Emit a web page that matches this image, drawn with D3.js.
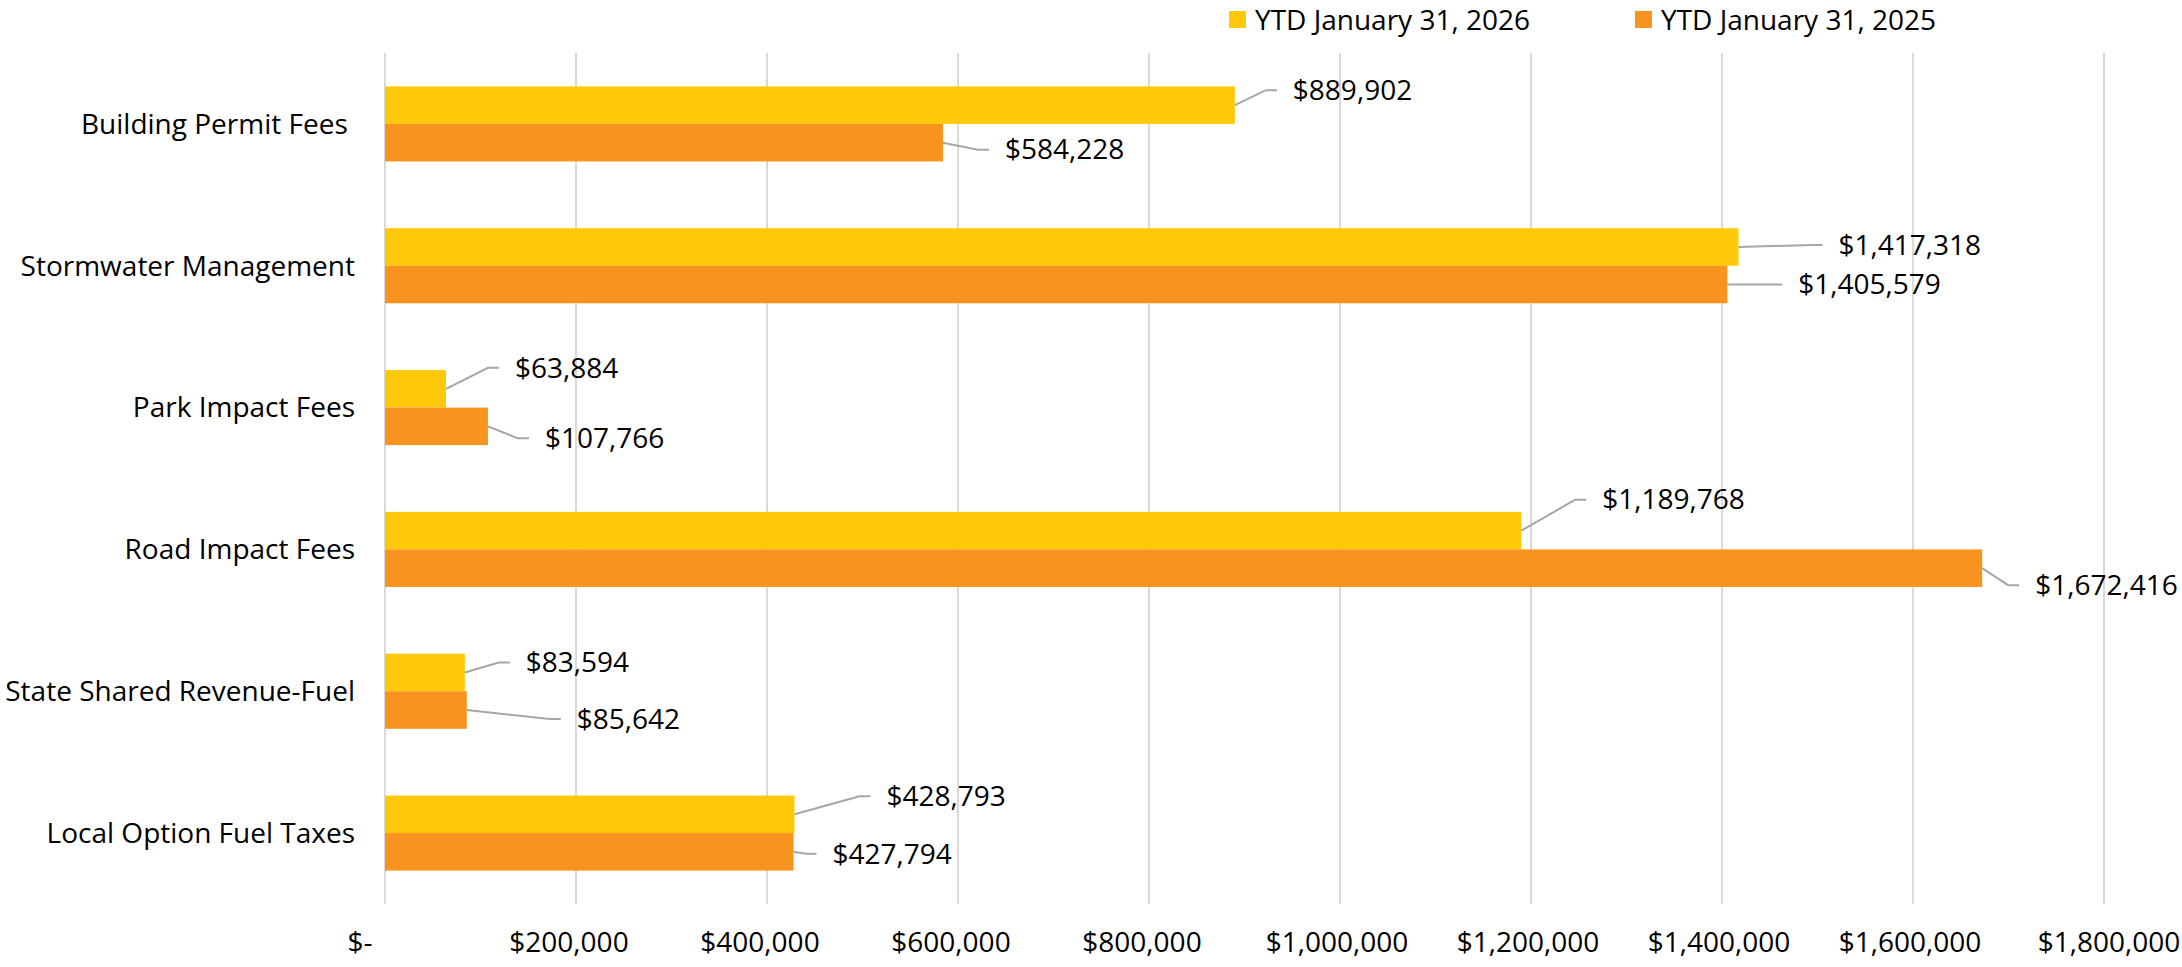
<!DOCTYPE html>
<html>
<head>
<meta charset="utf-8">
<script src="https://cdn.jsdelivr.net/npm/d3@7"></script>
<style>
  html, body { margin: 0; padding: 0; background: #fff; }
  text { font-family: "Open Sans", sans-serif; fill: #000; }
</style>
</head>
<body>
<div id="chart"></div>
<script>
'use strict';

// data
var categories = ["Building Permit Fees ", "Stormwater Management", "Park Impact Fees",
                  "Road Impact Fees", "State Shared Revenue-Fuel", "Local Option Fuel Taxes"];
var seriesNames = ["YTD January 31, 2026", "YTD January 31, 2025"];
var values2026 = [889902, 1417318, 63884, 1189768, 83594, 428793];
var values2025 = [584228, 1405579, 107766, 1672416, 85642, 427794];
var xTicks = [0, 200000, 400000, 600000, 800000, 1000000, 1200000, 1400000, 1600000, 1800000];

// where each data label sits, relative to the end of its bar (px)
var labelOffset2026 = [[58, -15], [100, -2], [69, -21], [81, -31], [61, -10], [92, -18]];
var labelOffset2025 = [[62, 7], [71, 0], [57, 12], [53, 17], [110, 9], [39, 2]];

var colours = ["#FFC907", "#F7931E"];

var width = 2182, height = 967;
var fontSize = 28;

var svg = d3.select("#chart").append("svg")
    .attr("width", width)
    .attr("height", height);

var x = d3.scaleLinear().domain([0, 1800000]).range([385, 2104]);
var y0 = d3.scaleBand().domain(categories).range([53, 904]);
var y1 = d3.scaleBand().domain(seriesNames).range([0, y0.bandwidth()])
    .paddingInner(0).paddingOuter(0.89);

var fmt = d3.format(",");
function money(v) { return v === 0 ? "$-" : "$" + fmt(v); }

// gridlines
svg.append("g").selectAll("line")
    .data(xTicks)
    .enter().append("line")
    .attr("x1", function (d) { return x(d); })
    .attr("x2", function (d) { return x(d); })
    .attr("y1", y0.range()[0])
    .attr("y2", y0.range()[1])
    .attr("stroke", "#D9D9D9")
    .attr("stroke-width", 2);

// x tick labels
svg.append("g").selectAll("text")
    .data(xTicks)
    .enter().append("text")
    .attr("x", function (d) { return x(d); })
    .attr("y", 942)
    .attr("dy", "0.35em")
    .attr("dx", function (d, i) {
        if (d === 0) return -25;
        if (i === xTicks.length - 1) return 5;
        return d < 1000000 ? -7 : -3;
    })
    .attr("text-anchor", "middle")
    .attr("font-size", fontSize)
    .text(money);

// category labels
svg.append("g").selectAll("text")
    .data(categories)
    .enter().append("text")
    .attr("x", 355)
    .attr("y", function (d) { return y0(d) + y0.bandwidth() / 2; })
    .attr("dy", "0.35em")
    .attr("text-anchor", "end")
    .attr("font-size", fontSize)
    .style("white-space", "pre")
    .text(function (d) { return d; });

var rows = categories.map(function (c, i) {
    return { cat: c, vals: [values2026[i], values2025[i]], offs: [labelOffset2026[i], labelOffset2025[i]] };
});

var groups = svg.selectAll(".cat")
    .data(rows)
    .enter().append("g")
    .attr("class", "cat")
    .attr("transform", function (d) { return "translate(0," + y0(d.cat) + ")"; });

var bars = groups.selectAll(".bar")
    .data(function (d) {
        return seriesNames.map(function (s, k) {
            return { series: s, k: k, value: d.vals[k], off: d.offs[k] };
        });
    })
    .enter().append("g")
    .attr("class", "bar");

bars.append("rect")
    .attr("x", x(0))
    .attr("y", function (d) { return y1(d.series); })
    .attr("width", function (d) { return x(d.value) - x(0); })
    .attr("height", y1.bandwidth())
    .attr("fill", function (d) { return colours[d.k]; });

// leader lines
bars.append("path")
    .attr("d", function (d) {
        var bx = x(d.value), by = y1(d.series) + y1.bandwidth() / 2;
        var lx = bx + d.off[0], ly = by + d.off[1];
        return "M" + bx + "," + by + "L" + (lx - 27) + "," + ly + "L" + (lx - 16) + "," + ly;
    })
    .attr("fill", "none")
    .attr("stroke", "#A6A6A6")
    .attr("stroke-width", 2);

bars.append("text")
    .attr("x", function (d) { return x(d.value) + d.off[0]; })
    .attr("y", function (d) { return y1(d.series) + y1.bandwidth() / 2 + d.off[1]; })
    .attr("dy", "0.35em")
    .attr("font-size", fontSize)
    .text(function (d) { return money(d.value); });

// legend
var legendX = [1229, 1635];
var legend = svg.selectAll(".legend")
    .data(seriesNames)
    .enter().append("g")
    .attr("class", "legend")
    .attr("transform", function (d, i) { return "translate(" + legendX[i] + ",0)"; });

legend.append("rect")
    .attr("x", 0).attr("y", 11)
    .attr("width", 17).attr("height", 17)
    .attr("fill", function (d, i) { return colours[i]; });

legend.append("text")
    .attr("x", 26).attr("y", 20)
    .attr("dy", "0.35em")
    .attr("font-size", fontSize)
    .text(function (d) { return d; });
</script>
</body>
</html>
